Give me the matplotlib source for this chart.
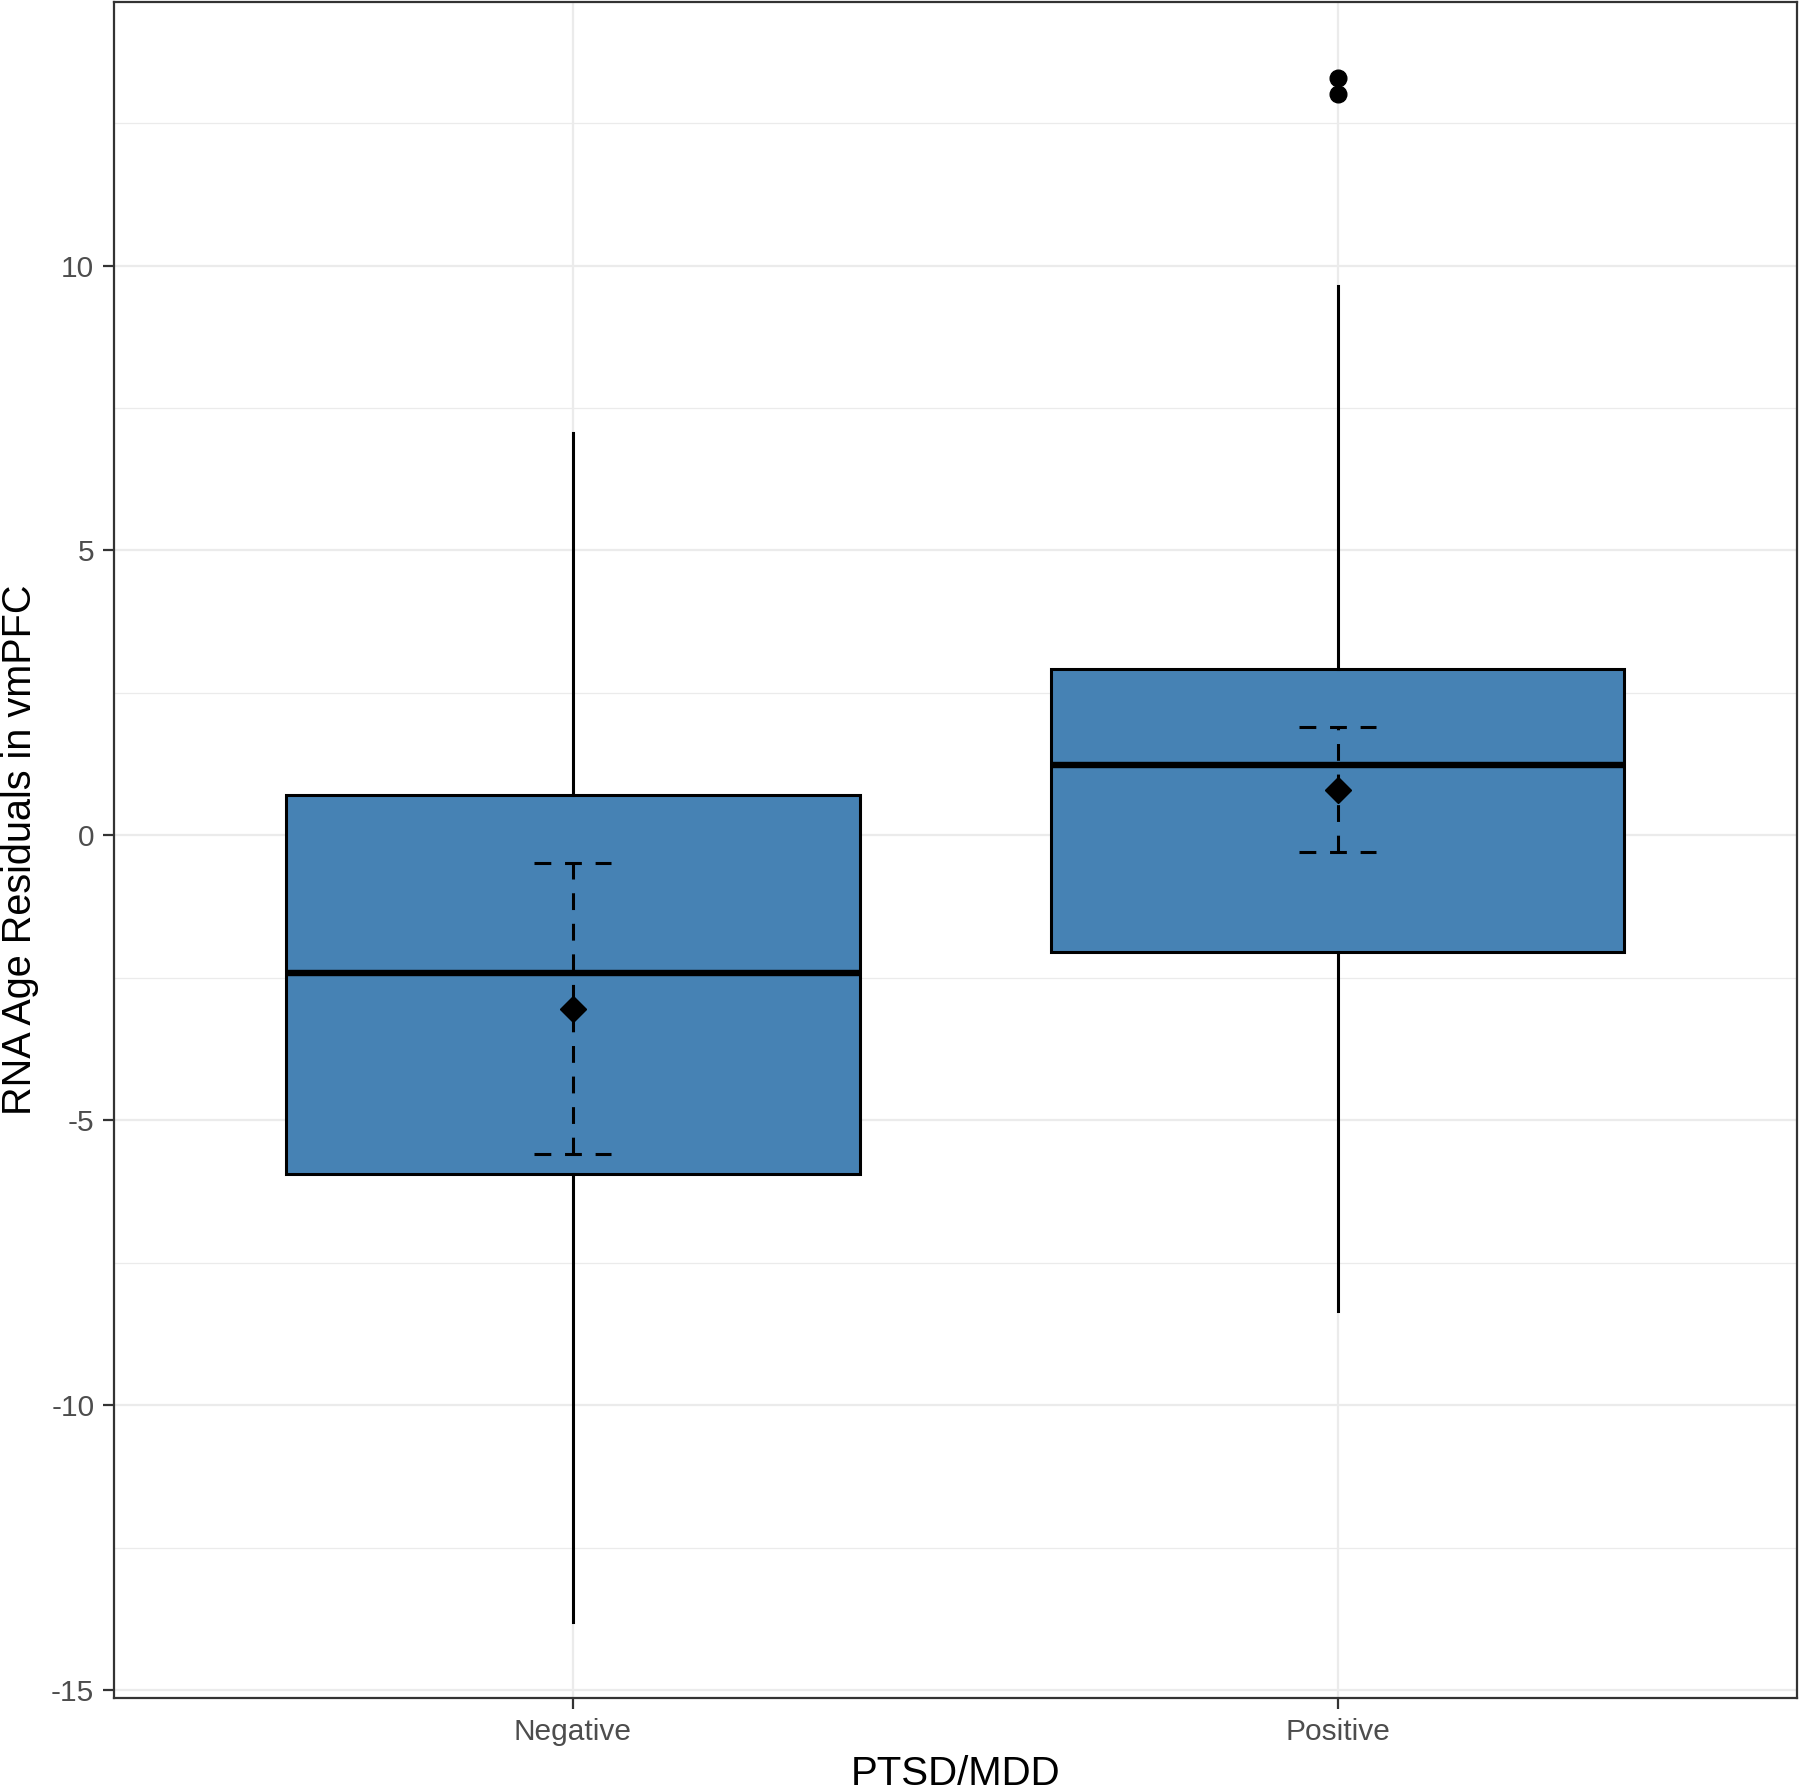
import matplotlib
matplotlib.use("Agg")
import matplotlib.pyplot as plt

plt.rcParams['font.family'] = ['Liberation Sans', 'DejaVu Sans']

# Values
groups = ["Negative", "Positive"]
q1 = [-5.95, -2.04]
median = [-2.41, 1.23]
q3 = [0.71, 2.92]
whisker_low = [-13.81, -8.35]
whisker_high = [7.06, 9.65]
outliers = [[], [13.01, 13.29]]
means = [-3.05, 0.80]
ci_low = [-5.59, -0.29]
ci_high = [-0.48, 1.91]

y_ticks = [-15, -10, -5, 0, 5, 10]
y_tick_labels = ["-15", "-10", "-5", "0", "5", "10"]
y_minor = [-12.5, -7.5, -2.5, 2.5, 7.5, 12.5]

fill_color = "#4682B4"
grid_color = "#EBEBEB"
dark = "#333333"

fig = plt.figure(figsize=(18, 17.91), dpi=100)
ax = fig.add_axes([0.0632, 0.0519, 0.9349, 0.9468])

positions = list(range(1, len(groups) + 1))

# boxplot from summary stats
stats = []
for i in range(len(groups)):
    stats.append(dict(med=median[i], q1=q1[i], q3=q3[i],
                      whislo=whisker_low[i], whishi=whisker_high[i],
                      fliers=outliers[i], label=groups[i]))

ax.bxp(stats, positions=positions, widths=0.75, showcaps=False, patch_artist=True,
       boxprops=dict(facecolor=fill_color, edgecolor="black", linewidth=2.2),
       whiskerprops=dict(color="black", linewidth=2.2),
       medianprops=dict(color="black", linewidth=4.6),
       flierprops=dict(marker="o", markerfacecolor="black", markeredgecolor="black",
                       markersize=12, linestyle="none"),
       zorder=2)

# dashed CI error bars and mean diamond
cap_half = 0.05
dash = (0, (5.5, 4.5))
for i, x in enumerate(positions):
    ax.vlines(x, ci_low[i], ci_high[i], colors="black", linewidth=2.2, linestyles=[dash], zorder=3)
    ax.hlines([ci_low[i], ci_high[i]], x - cap_half, x + cap_half, colors="black",
              linewidth=2.2, linestyles=[dash], zorder=3)
ax.plot(positions, means, linestyle="none", marker="D", markersize=13,
        color="black", zorder=4)

# axes setup, ggplot theme_bw look
ax.set_xlim(0.4, len(groups) + 0.6)
ax.set_ylim(-15.14, 14.62)
ax.set_xticks(positions)
ax.set_xticklabels(groups)
ax.set_yticks(y_ticks)
ax.set_yticklabels(y_tick_labels)
ax.set_yticks(y_minor, minor=True)

ax.grid(True, which="major", color=grid_color, linewidth=1.6, zorder=0)
ax.grid(True, which="minor", axis="y", color=grid_color, linewidth=0.9, zorder=0)
ax.set_axisbelow(True)

ax.tick_params(axis="both", which="major", length=8, width=1.6, color=dark,
               labelsize=21.5, labelcolor="#4D4D4D")
ax.tick_params(axis="y", which="major", pad=6)
ax.tick_params(axis="x", which="major", pad=6.5)
ax.tick_params(axis="y", which="minor", length=0)

for side in ax.spines.values():
    side.set_color(dark)
    side.set_linewidth(1.6)

ax.set_xlabel("PTSD/MDD", fontsize=29, color="black", labelpad=6)
ax.set_ylabel("RNA Age Residuals in vmPFC", fontsize=28.5, color="black", labelpad=9)

fig.savefig("out.png", dpi=100, facecolor="white")
